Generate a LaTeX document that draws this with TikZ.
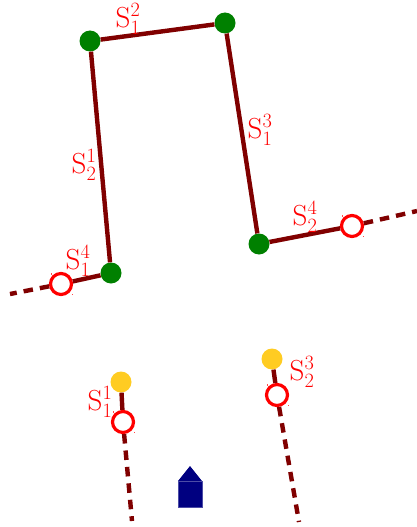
\documentclass[tikz,border=0pt]{standalone}
\usepackage{fix-cm}
\usepackage{amsmath, amssymb}
\usepackage{xcolor}
\usepackage{tikz}
\usetikzlibrary{calc}
\definecolor{wallred}{HTML}{800000}
\definecolor{cornergreen}{HTML}{008000}
\definecolor{tipyellow}{HTML}{FFCC22}
\definecolor{robotblue}{HTML}{000080}

\begin{document}
\begin{tikzpicture}[x=1pt, y=-1pt,
    corner/.style={circle, fill=cornergreen, inner sep=0pt, minimum size=21pt},
    tip/.style={circle, fill=tipyellow, inner sep=0pt, minimum size=21pt},
    hit/.style={circle, draw=red, fill=white, line width=3.2pt, inner sep=0pt, minimum size=21pt},
    wall/.style={draw=wallred, line width=4.4pt},
    ray/.style={wall, dash pattern=on 9.5pt off 7pt},
    seg/.style={text=red, font=\fontsize{29}{34}\selectfont}]

    \useasboundingbox (0,0) rectangle (417,527);

    \node[corner] (c1) at (90,41) {};
    \node[corner] (c2) at (225,23) {};
    \node[corner] (c3) at (259,244) {};
    \node[corner] (c4) at (111,273) {};

    \node[tip] (t1) at (121,382) {};
    \node[tip] (t2) at (272,359) {};

    \node[hit] (h1) at (61,284) {};
    \node[hit] (h2) at (352,226) {};
    \node[hit] (h3) at (123,422) {};
    \node[hit] (h4) at (277,395) {};

    \coordinate (e1) at (10,294);
    \coordinate (e2) at (417,211);
    \coordinate (e3) at (132,521);
    \coordinate (e4) at (299,522);

    \draw[wall] (c1) -- (c2);
    \draw[wall] (c1) -- (c4);
    \draw[wall] (c2) -- (c3);
    \draw[wall] (c3) -- (h2);
    \draw[wall] (c4) -- (h1);
    \draw[wall] (t1) -- (h3);
    \draw[wall] (t2) -- (h4);

    \draw[ray] (h1) -- (e1);
    \draw[ray] (h2) -- (e2);
    \draw[ray] (h3) -- (e3);
    \draw[ray] (h4) -- (e4);

    % tiny marks at the corners of the open circles
    \foreach \h in {h1, h2, h3, h4} {
        \fill[red!70] ($(\h)+(-10.5,-11)$) rectangle +(0.9,1.6);
        \fill[red!70] ($(\h)+(10.5,9.5)$) rectangle +(0.9,1.6);
    }

    \node[seg] (s12) at (128,19) {$\mathrm{S}_1^2$};
    \node[seg] (s21) at (84,165) {$\mathrm{S}_2^1$};
    \node[seg] (s13) at (260,130) {$\mathrm{S}_1^3$};
    \node[seg] (s14) at (78,261) {$\mathrm{S}_1^4$};
    \node[seg] (s24) at (305,217) {$\mathrm{S}_2^4$};
    \node[seg] (s11) at (100,402) {$\mathrm{S}_1^1$};
    \node[seg] (s23) at (302,372) {$\mathrm{S}_2^3$};

    \fill[robotblue] (178,481) -- (190,466) -- (202,481) -- cycle;
    \node[fill=robotblue, draw=robotblue!70!white, line width=0.4pt, inner sep=0pt, minimum width=24pt, minimum height=26pt] (robot) at (190,494) {};

\end{tikzpicture}
\end{document}
